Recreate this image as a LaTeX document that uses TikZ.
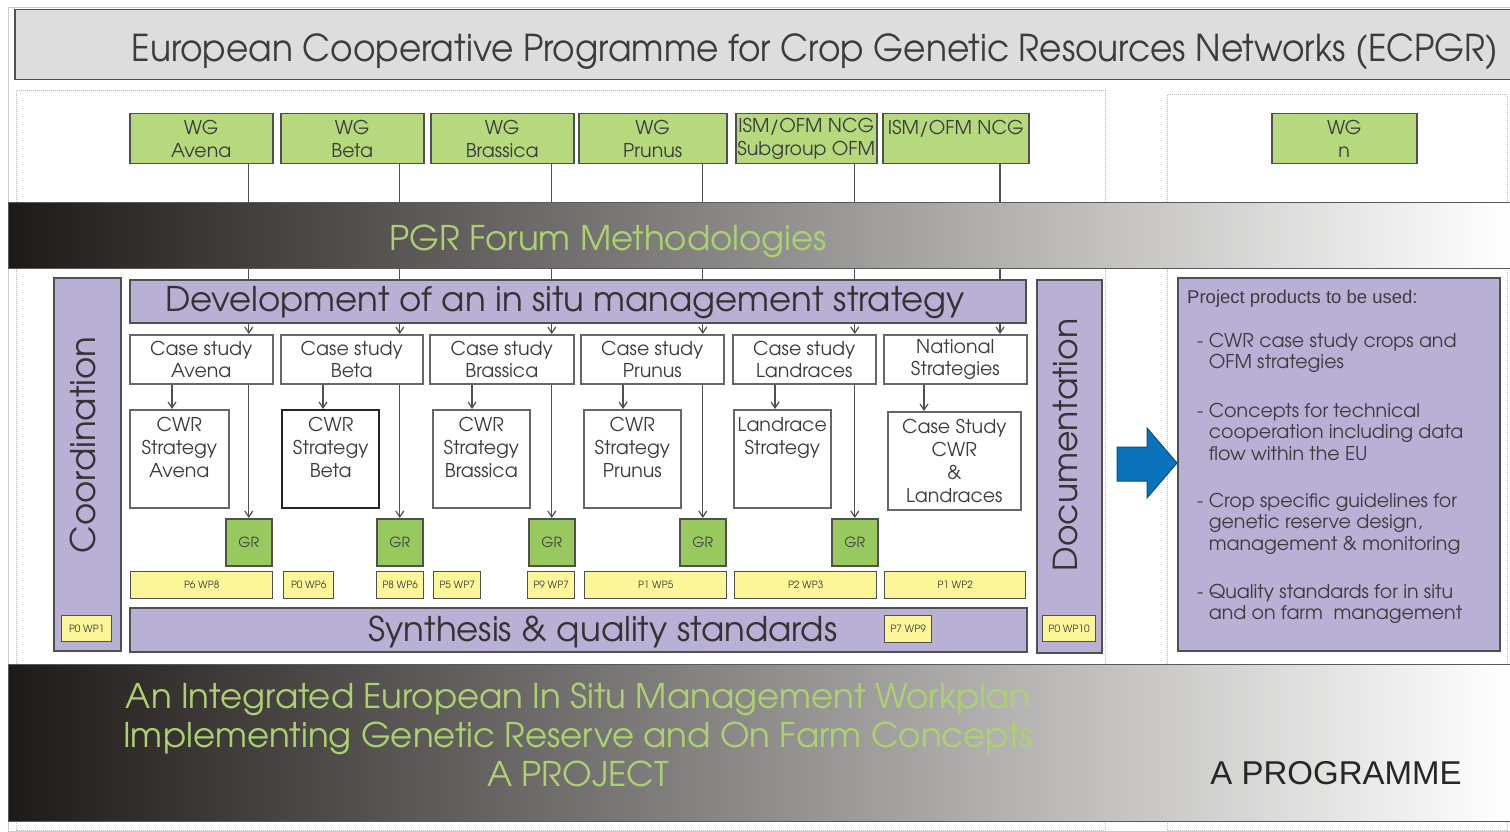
\documentclass[tikz,border=0pt]{standalone}
\usepackage{fontspec}
\setmainfont{TeX Gyre Adventor}
\newfontfamily\titlefont[FakeStretch=0.93]{TeX Gyre Adventor}
\newfontfamily\arialfont{Liberation Sans}
\usetikzlibrary{positioning, calc, arrows.meta}

\definecolor{wggreen}{RGB}{181,217,124}
\definecolor{grgreen}{RGB}{152,201,94}
\definecolor{lilac}{RGB}{184,176,213}
\definecolor{wpyellow}{RGB}{252,246,152}
\definecolor{titlegray}{RGB}{221,221,221}
\definecolor{leafgreen}{RGB}{172,210,112}
\definecolor{inkgray}{RGB}{60,60,60}
\definecolor{edgegray}{RGB}{80,80,80}
\definecolor{bandblack}{RGB}{30,26,24}
\definecolor{arrowblue}{RGB}{10,114,186}

\tikzset{
  % frames and bands
  frameline/.style = { draw=gray!55, line width=1pt, densely dotted },
  titlebox/.style  = { draw=edgegray, line width=1.5pt, fill=titlegray, anchor=north west,
                       minimum width=1496pt, minimum height=70pt, inner sep=0pt },
  titletext/.style = { text=inkgray, inner sep=0pt, font=\titlefont\fontsize{37}{40}\selectfont },
  band/.style      = { draw=gray!70!black, line width=1pt, left color=bandblack, right color=white,
                       anchor=north west, minimum width=1502pt, inner sep=0pt },
  bandtext/.style  = { text=leafgreen, inner sep=0pt, font=\fontsize{34}{39}\selectfont },
  % boxes
  wgbox/.style     = { draw=edgegray, line width=1.5pt, fill=wggreen, anchor=north west,
                       minimum height=50pt, inner sep=0pt, align=center, text=inkgray,
                       font=\fontsize{19}{23}\selectfont },
  barbox/.style    = { draw=edgegray, line width=1.5pt, fill=lilac, anchor=north west, inner sep=0pt },
  bartext/.style   = { text=black!80, inner sep=0pt, font=\fontsize{34}{36}\selectfont },
  sidetext/.style  = { text=black!80, inner sep=0pt, rotate=90, anchor=base },
  casebox/.style   = { draw=gray!80!black, line width=1.6pt, fill=white, anchor=north west,
                       minimum height=49pt, inner sep=0pt, align=center, text=inkgray,
                       font=\fontsize{19}{22}\selectfont },
  stratbox/.style  = { draw=gray!80!black, line width=1.6pt, fill=white, anchor=north west,
                       minimum height=98pt, inner sep=0pt },
  strattext/.style = { anchor=north, align=center, text=inkgray, inner sep=0pt, yshift=-8pt,
                       font=\fontsize{19}{23}\selectfont },
  grbox/.style     = { draw=edgegray, line width=1.5pt, fill=grgreen, anchor=north west,
                       minimum width=46pt, minimum height=47pt, inner sep=0pt, text=inkgray,
                       font=\fontsize{14}{16}\selectfont },
  wpbox/.style     = { draw=edgegray, line width=1.3pt, fill=wpyellow, anchor=north west,
                       minimum height=27pt, inner sep=0pt, text=inkgray,
                       font=\fontsize{10}{11}\selectfont },
  prodhead/.style  = { text=inkgray, inner sep=0pt, font=\arialfont\fontsize{18.5}{21}\selectfont },
  proditem/.style  = { anchor=north west, align=left, text=inkgray, inner sep=0pt,
                       font=\fontsize{19}{21.5}\selectfont },
  % connectors
  link/.style      = { draw=edgegray, line width=1.2pt },
  flow/.style      = { link, -{Straight Barb[length=6pt, width=8pt]} }
}

\begin{document}
\begin{tikzpicture}[x=1pt, y=-1pt]
  \useasboundingbox (0,0) rectangle (1510,832);

  % outer frames
  \draw[gray!40, line width=1pt] (8,8) rectangle (1510,831);
  \draw[frameline] (16,91) rectangle (1105,830);
  \draw[frameline] (1167,95) rectangle (1507,830);

  \node[titlebox] (title) at (14,9) {};
  \node[titletext, anchor=base] (titlelabel) at (815,62)
    {European Cooperative Programme for Crop Genetic Resources Networks (ECPGR)};

  % working groups
  \node[wgbox, minimum width=143pt] (wgavena)    at (129,113) {WG\\Avena};
  \node[wgbox, minimum width=143pt] (wgbeta)     at (280,113) {WG\\Beta};
  \node[wgbox, minimum width=143pt] (wgbrassica) at (430,113) {WG\\Brassica};
  \node[wgbox, minimum width=148pt] (wgprunus)   at (578,113) {WG\\Prunus};
  \node[wgbox, minimum width=141pt] (wgofmsub)   at (735,113) {ISM/OFM NCG\\Subgroup OFM};
  \node[wgbox, minimum width=146pt] (wgofm)      at (882,113) {ISM/OFM NCG\\\mbox{}};
  \node[wgbox, minimum width=145pt] (wgn)        at (1271,113) {WG\\n};

  % project bars
  \node[barbox, minimum width=896pt, minimum height=43pt] (devbar) at (129,279) {};
  \node[bartext, anchor=base] (devlabel) at (565,311) {Development of an in situ management strategy};
  \node[barbox, minimum width=67pt, minimum height=373pt] (coordbar) at (53,277) {};
  \node[sidetext, font=\fontsize{34}{36}\selectfont] (coordlabel) at (95,445) {Coordination};
  \node[barbox, minimum width=65pt, minimum height=373pt] (docbar) at (1036,279) {};
  \node[sidetext, font=\fontsize{33}{35}\selectfont] (doclabel) at (1077,445) {Documentation};
  \node[barbox, minimum width=897pt, minimum height=44pt] (synbar) at (129,607) {};
  \node[bartext, anchor=base] (synlabel) at (603,641)
    {Synthesis \& quality standards};

  % case studies
  \node[casebox, minimum width=143pt] (csavena)     at (129,334) {Case study\\Avena};
  \node[casebox, minimum width=142pt] (csbeta)      at (280,334) {Case study\\Beta};
  \node[casebox, minimum width=144pt] (csbrassica)  at (429,334) {Case study\\Brassica};
  \node[casebox, minimum width=143pt] (csprunus)    at (580,334) {Case study\\Prunus};
  \node[casebox, minimum width=143pt] (cslandraces) at (732,334) {Case study\\Landraces};
  \node[casebox, minimum width=143pt] (csnational)  at (883,334) {National\\Strategies};

  % strategies
  \node[stratbox, minimum width=99pt, label={[strattext]north:CWR\\Strategy\\Avena}] (cwravena) at (129,409) {};
  \node[stratbox, minimum width=97pt, draw=black!85, line width=2.4pt,
        label={[strattext]north:CWR\\Strategy\\Beta}] (cwrbeta) at (281,409) {};
  \node[stratbox, minimum width=97pt, label={[strattext]north:CWR\\Strategy\\Brassica}] (cwrbrassica) at (432,409) {};
  \node[stratbox, minimum width=97pt, label={[strattext]north:CWR\\Strategy\\Prunus}] (cwrprunus) at (583,409) {};
  \node[stratbox, minimum width=97pt, label={[strattext]north:Landrace\\Strategy}] (lrstrategy) at (733,409) {};
  \node[stratbox, minimum width=133pt, label={[strattext]north:Case Study\\CWR\\\&\\Landraces}] (natstudy) at (887,411) {};

  % genetic reserves
  \node[grbox] (gravena)    at (225,518) {GR};
  \node[grbox] (grbeta)     at (376,518) {GR};
  \node[grbox] (grbrassica) at (528,518) {GR};
  \node[grbox] (grprunus)   at (679,518) {GR};
  \node[grbox] (grlandraces) at (831,518) {GR};
  \coordinate (natcol) at (1000,0);

  % work packages
  \node[wpbox, minimum width=142pt] (wp68) at (130,571) {P6 WP8};
  \node[wpbox, minimum width=50pt]  (wp06) at (283,571) {P0 WP6};
  \node[wpbox, minimum width=47pt]  (wp86) at (376,571) {P8 WP6};
  \node[wpbox, minimum width=47pt]  (wp57) at (433,571) {P5 WP7};
  \node[wpbox, minimum width=47pt]  (wp97) at (527,571) {P9 WP7};
  \node[wpbox, minimum width=142pt] (wp15) at (584,571) {P1 WP5};
  \node[wpbox, minimum width=142pt] (wp23) at (734,571) {P2 WP3};
  \node[wpbox, minimum width=141pt] (wp12) at (884,571) {P1 WP2};
  \node[wpbox, minimum width=50pt, minimum height=26pt] (wp01)  at (61,615)   {P0 WP1};
  \node[wpbox, minimum width=47pt]                      (wp79)  at (884,615)  {P7 WP9};
  \node[wpbox, minimum width=53pt, minimum height=26pt] (wp010) at (1042,615) {P0 WP10};

  % WG lines run under the methodology band
  \draw[link] (wgavena.south -| gravena.north)       -- (devbar.north -| gravena.north);
  \draw[link] (wgbeta.south -| grbeta.north)         -- (devbar.north -| grbeta.north);
  \draw[link] (wgbrassica.south -| grbrassica.north) -- (devbar.north -| grbrassica.north);
  \draw[link] (wgprunus.south -| grprunus.north)     -- (devbar.north -| grprunus.north);
  \draw[link] (wgofmsub.south -| grlandraces.north)  -- (devbar.north -| grlandraces.north);
  \draw[link] (wgofm.south -| natcol)                -- (devbar.north -| natcol);

  \node[band, minimum height=66pt] (pgrband) at (8,202) {};
  \node[bandtext, anchor=base] (pgrlabel) at (608,250) {PGR Forum Methodologies};
  \node[band, minimum height=157pt] (workband) at (8,664) {};
  \node[bandtext, anchor=north, align=center] (worklabel) at (578,683)
    {An Integrated European In Situ Management Workplan\\
     Implementing Genetic Reserve and On Farm Concepts\\
     A PROJECT};
  \node[anchor=base, inner sep=0pt, text=black!85, font=\arialfont\fontsize{33}{36}\selectfont]
    (proglabel) at (1336,784) {A PROGRAMME};

  % strategy bar to case studies
  \draw[flow] (devbar.south -| gravena.north)     -- (csavena.north -| gravena.north);
  \draw[flow] (devbar.south -| grbeta.north)      -- (csbeta.north -| grbeta.north);
  \draw[flow] (devbar.south -| grbrassica.north)  -- (csbrassica.north -| grbrassica.north);
  \draw[flow] (devbar.south -| grprunus.north)    -- (csprunus.north -| grprunus.north);
  \draw[flow] (devbar.south -| grlandraces.north) -- (cslandraces.north -| grlandraces.north);
  \draw[flow] (devbar.south -| natcol)            -- (csnational.north -| natcol);

  % case studies to strategies
  \draw[flow] ([xshift=43pt]csavena.south west)     -- ([xshift=43pt]csavena.south west |- cwravena.north);
  \draw[flow] ([xshift=43pt]csbeta.south west)      -- ([xshift=43pt]csbeta.south west |- cwrbeta.north);
  \draw[flow] ([xshift=43pt]csbrassica.south west)  -- ([xshift=43pt]csbrassica.south west |- cwrbrassica.north);
  \draw[flow] ([xshift=43pt]csprunus.south west)    -- ([xshift=43pt]csprunus.south west |- cwrprunus.north);
  \draw[flow] ([xshift=43pt]cslandraces.south west) -- ([xshift=43pt]cslandraces.south west |- lrstrategy.north);
  \draw[flow] ([xshift=41pt]csnational.south west)  -- ([xshift=41pt]csnational.south west |- natstudy.north);

  % case studies to genetic reserves
  \draw[flow] (csavena.south -| gravena.north)         -- (gravena.north);
  \draw[flow] (csbeta.south -| grbeta.north)           -- (grbeta.north);
  \draw[flow] (csbrassica.south -| grbrassica.north)   -- (grbrassica.north);
  \draw[flow] (csprunus.south -| grprunus.north)       -- (grprunus.north);
  \draw[flow] (cslandraces.south -| grlandraces.north) -- (grlandraces.north);

  % products handed over to the programme
  \fill[arrowblue, draw=arrowblue!70!black, line width=1pt]
    (1117,447) -- (1147,447) -- (1147,428) -- (1177,463) -- (1147,498) -- (1147,481) -- (1117,481) -- cycle;
  \node[barbox, minimum width=322pt, minimum height=373pt] (prodbox) at (1177,277) {};
  \node[prodhead, anchor=base west] (prodtitle) at (1187,303) {Project products to be used:};
  \node[proditem] (item1) at (1197,333) {- CWR case study crops and\\\hphantom{- }OFM strategies};
  \node[proditem] (item2) at (1197,403) {- Concepts for technical\\\hphantom{- }cooperation including data\\\hphantom{- }flow within the EU};
  \node[proditem] (item3) at (1197,493) {- Crop specific guidelines for\\\hphantom{- }genetic reserve design,\\\hphantom{- }management \& monitoring};
  \node[proditem] (item4) at (1197,584) {- Quality standards for in situ\\\hphantom{- }and on farm\ \ management};
\end{tikzpicture}
\end{document}
